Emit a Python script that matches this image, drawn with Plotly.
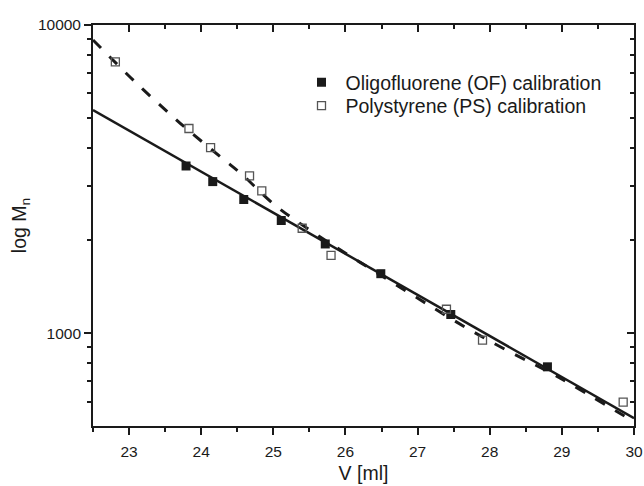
import plotly.graph_objects as go
import math

# ---- data ----
of_v = [23.79, 24.16, 24.59, 25.11, 25.72, 26.49, 27.46, 28.80]
of_m = [3488, 3104, 2715, 2321, 1948, 1560, 1150, 778]

ps_v = [22.81, 23.83, 24.13, 24.67, 24.84, 25.40, 25.80, 27.40, 27.90, 29.85]
ps_m = [7590, 4616, 3999, 3238, 2897, 2191, 1788, 1196, 949, 598]

# calibration lines
of_fit_v = [22.5, 30.0]
of_fit_m = [5300, 530]

ps_fit_v = [22.5, 23.086, 23.572, 23.807, 24.306, 24.548, 25.023, 25.508, 26.733, 27.671, 28.152, 28.905, 30.0]
ps_fit_m = [8942, 6529, 5130, 4585, 3672, 3301, 2604, 2160, 1421, 1043, 902, 730, 516]

x_ticks = [23, 24, 25, 26, 27, 28, 29, 30]
y_ticks = [1000, 10000]
y_minor = [600, 700, 800, 900, 2000, 3000, 4000, 5000, 6000, 7000, 8000, 9000]

FONT = "Liberation Sans, Arial, sans-serif"
INK = "#1a1a1a"

fig = go.Figure()

fig.add_trace(go.Scatter(x=of_fit_v, y=of_fit_m, mode="lines",
                         line=dict(color=INK, width=2.5), showlegend=False, hoverinfo="skip"))
fig.add_trace(go.Scatter(x=ps_fit_v, y=ps_fit_m, mode="lines", line_shape="spline",
                         line=dict(color=INK, width=3, dash="11px,12px"), showlegend=False, hoverinfo="skip"))
fig.add_trace(go.Scatter(x=of_v, y=of_m, mode="markers", name="Oligofluorene (OF) calibration",
                         legend="legend",
                         marker=dict(symbol="square", size=9, color=INK, line=dict(width=0))))
fig.add_trace(go.Scatter(x=ps_v, y=ps_m, mode="markers", name="Polystyrene (PS) calibration",
                         legend="legend2",
                         marker=dict(symbol="square-open", size=8, color="#555555", line=dict(width=1.3))))

# invisible traces to activate mirror axes
fig.add_trace(go.Scatter(x=[26], y=[1000], xaxis="x2", yaxis="y", mode="markers",
                         marker=dict(opacity=0), showlegend=False, hoverinfo="skip"))
fig.add_trace(go.Scatter(x=[26], y=[1000], xaxis="x", yaxis="y2", mode="markers",
                         marker=dict(opacity=0), showlegend=False, hoverinfo="skip"))

yr = [math.log10(500), 4]
TICKF = 15.5
TITLEF = 19.5

common_minor_x = dict(dtick=0.5, ticklen=4, tickwidth=1.5, tickcolor=INK, showgrid=False)
common_minor_y = dict(tickvals=y_minor, ticklen=4, tickwidth=1.5, tickcolor=INK, showgrid=False)

leg_common = dict(xanchor="left", yanchor="middle", font=dict(size=19.5, color=INK),
                  bgcolor="rgba(0,0,0,0)", itemwidth=38, borderwidth=0)

fig.update_layout(
    width=644, height=486,
    margin=dict(l=93, r=10, t=25, b=60, autoexpand=False),
    paper_bgcolor="white", plot_bgcolor="white",
    font=dict(family=FONT, color=INK, size=TICKF),
    xaxis=dict(range=[22.5, 30], tickmode="array", tickvals=x_ticks, automargin=False,
               ticks="outside", ticklen=7, tickwidth=1.5, tickcolor=INK,
               showline=True, linecolor=INK, linewidth=1.8, showgrid=False, zeroline=False,
               minor=dict(ticks="outside", **common_minor_x),
               ticklabelstandoff=3,
               title=dict(text="V [ml]", font=dict(size=TITLEF), standoff=8),
               tickfont=dict(size=TICKF)),
    xaxis2=dict(range=[22.5, 30], overlaying="x", side="top", anchor="y", automargin=False,
                tickmode="array", tickvals=x_ticks, showticklabels=False,
                ticks="inside", ticklen=7, tickwidth=1.5, tickcolor=INK,
                showline=True, linecolor=INK, linewidth=1.8, showgrid=False, zeroline=False,
                minor=dict(ticks="inside", **common_minor_x)),
    yaxis=dict(type="log", range=yr, tickmode="array", tickvals=y_ticks, automargin=False,
               ticktext=[str(v) for v in y_ticks],
               ticks="outside", ticklen=7, tickwidth=1.5, tickcolor=INK,
               showline=True, linecolor=INK, linewidth=1.8, showgrid=False, zeroline=False,
               minor=dict(ticks="outside", **common_minor_y),
               title=dict(text="log M<sub>n</sub>", font=dict(size=TITLEF), standoff=6),
               tickfont=dict(size=TICKF)),
    yaxis2=dict(type="log", range=yr, overlaying="y", side="right", anchor="x", automargin=False,
                tickmode="array", tickvals=y_ticks, showticklabels=False,
                ticks="inside", ticklen=7, tickwidth=1.5, tickcolor=INK,
                showline=True, linecolor=INK, linewidth=1.8, showgrid=False, zeroline=False,
                minor=dict(ticks="inside", **common_minor_y)),
    legend=dict(x=0.378, y=(426 - 82.5) / 401, **leg_common),
    legend2=dict(x=0.378, y=(426 - 106) / 401, **leg_common),
    showlegend=True,
)

fig.write_html("out.html")
